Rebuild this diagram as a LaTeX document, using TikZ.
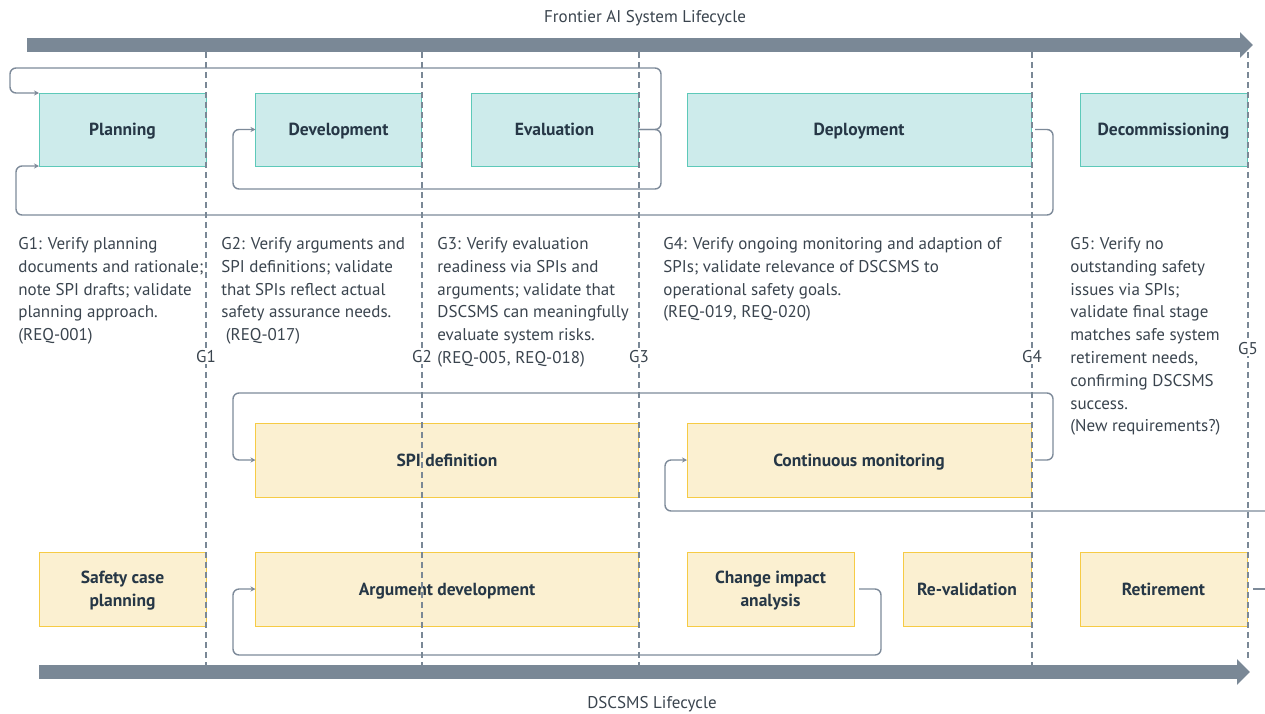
\documentclass[tikz,border=0pt]{standalone}
\usepackage{fontspec}
\setmainfont{PT Sans}
\usetikzlibrary{arrows.meta, positioning}
\definecolor{barGray}{HTML}{7A8896}
\definecolor{loopGray}{HTML}{7D8A99}
\definecolor{phaseFill}{HTML}{CDEBEB}
\definecolor{phaseLine}{HTML}{5DC9B9}
\definecolor{taskFill}{HTML}{FBF0D1}
\definecolor{taskLine}{HTML}{F6CB45}
\definecolor{inkDark}{HTML}{263746}
\definecolor{inkGray}{HTML}{3A444E}
\newcommand{\notesize}{\fontsize{17}{22.8}\selectfont}
\newcommand{\labelsize}{\fontsize{17.5}{23}\selectfont}
\tikzset{
  every picture/.style={line width=0.8pt},
  node distance=49.5pt,
  oneline/.style={text height=#1, text depth=0pt},
  oneline/.default=12.2pt,
  phase/.style={draw=phaseLine, fill=phaseFill, minimum height=73pt, inner sep=0pt, outer sep=0pt, oneline, font=\bfseries\labelsize, text=inkDark},
  task/.style={draw=taskLine, fill=taskFill, minimum height=74pt, inner sep=0pt, outer sep=0pt, align=center, text depth=0pt, font=\bfseries\labelsize, text=inkDark},
  note/.style={anchor=north west, align=left, inner sep=0pt, font=\notesize, text=inkGray},
  gate/.style={fill=white, inner sep=1.5pt, oneline=11.9pt, font=\notesize, text=inkGray},
  back/.style={draw=loopGray, line width=1.4pt, rounded corners=6pt, -{Stealth[length=5pt, width=5pt]}},
  lifebar/.style={draw=barGray, line width=14pt, -{Triangle[length=13pt, width=25pt]}},
  gateline/.style={draw=barGray, line width=1.2pt, dash pattern=on 6pt off 4pt}
}

\begin{document}
\begin{tikzpicture}[x=1pt, y=-1pt]
  \useasboundingbox (0,0) rectangle (1265,713);

  % lifecycle bars
  \node[font=\notesize, text=inkGray, oneline=11.9pt] (aititle) at (645,17) {Frontier AI System Lifecycle};
  \coordinate (aistart) at (27,45);
  \coordinate (aiend) at (1253,45);
  \draw[lifebar] (aistart) -- (aiend);

  \node[font=\notesize, text=inkGray, oneline=11.9pt] (smstitle) at (652,703) {DSCSMS Lifecycle};
  \coordinate (smsstart) at (39,672);
  \coordinate (smsend) at (1250,672);
  \draw[lifebar] (smsstart) -- (smsend);

  % system phases
  \node[phase, minimum width=167pt] (plan) at (122.5,129.5) {Planning};
  \node[phase, minimum width=166pt, right=of plan] (dev) {Development};
  \node[phase, minimum width=167pt, right=of dev] (eval) {Evaluation};
  \node[phase, minimum width=344pt, right=49pt of eval] (depl) {Deployment};
  \node[phase, minimum width=167pt, right=49pt of depl] (decom) {Decommissioning};

  % DSCSMS tasks
  \coordinate (rowA) at (0,460);
  \coordinate (rowB) at (0,589);
  \node[task, oneline, minimum width=383pt, anchor=west] (spi) at (dev.west |- rowA) {SPI definition};
  \node[task, oneline, minimum width=344pt, anchor=west] (mon) at (depl.west |- rowA) {Continuous monitoring};
  \node[task, minimum width=167pt, anchor=west] (scp) at (plan.west |- rowB) {Safety case\\planning};
  \node[task, oneline, minimum width=383pt, anchor=west] (arg) at (dev.west |- rowB) {Argument development};
  \node[task, minimum width=167pt, anchor=west] (cia) at (depl.west |- rowB) {Change impact\\analysis};
  \node[task, oneline, minimum width=128pt, right=49pt of cia] (reval) {Re-validation};
  \node[task, oneline, minimum width=167pt, anchor=west] (ret) at (decom.west |- rowB) {Retirement};

  % gate notes
  \node[note] (n1) at (18,237) {G1: Verify planning\\documents and rationale;\\note SPI drafts; validate\\planning approach.\\(REQ-001)};
  \node[note] (n2) at (221,237) {G2: Verify arguments and\\SPI definitions; validate\\that SPIs reflect actual\\safety assurance needs.\\\ (REQ-017)};
  \node[note] (n3) at (437,237) {G3: Verify evaluation\\readiness via SPIs and\\arguments; validate that\\DSCSMS can meaningfully\\evaluate system risks.\\(REQ-005, REQ-018)};
  \node[note] (n4) at (663,237) {G4: Verify ongoing monitoring and adaption of\\SPIs; validate relevance of DSCSMS to\\operational safety goals.\\(REQ-019, REQ-020)};
  \node[note] (n5) at (1070,237) {G5: Verify no\\outstanding safety\\issues via SPIs;\\validate final stage\\matches safe system\\retirement needs,\\confirming DSCSMS\\success.\\(New requirements?)};

  % feedback loops
  \draw[back] (eval.east) -- ++(23,0) |- (10,68) |- (plan.north west);
  \draw[back] (eval.east) -- ++(23,0) |- (233,189) |- (dev.west);
  \draw[back] ([xshift=4pt]depl.east) -- ++(18,0) |- (16,215) |- (plan.south west);
  \draw[back] ([xshift=4pt]mon.east) -- ++(18,0) |- (233,393) |- (spi.west);
  \coordinate (monin) at (1275,511);
  \draw[back] (monin) -| ([xshift=-22pt]mon.west) -- (mon.west);
  \draw[back] ([xshift=5pt]cia.east) -- ++(22,0) |- (233,655) |- (arg.west);
  \coordinate (retout) at (1275,589);
  \draw[back, -] ([xshift=6pt]ret.east) -- (retout);

  % quality gates
  \foreach \g/\x/\ybot/\ylab in {1/206/665/357, 2/422/665/357, 3/639/665/357, 4/1032/665/357, 5/1248/660/349} {
    \draw[gateline] (\x,52) -- (\x,\ybot);
    \node[gate] (g\g) at (\x,\ylab) {G\g};
  }
\end{tikzpicture}
\end{document}
